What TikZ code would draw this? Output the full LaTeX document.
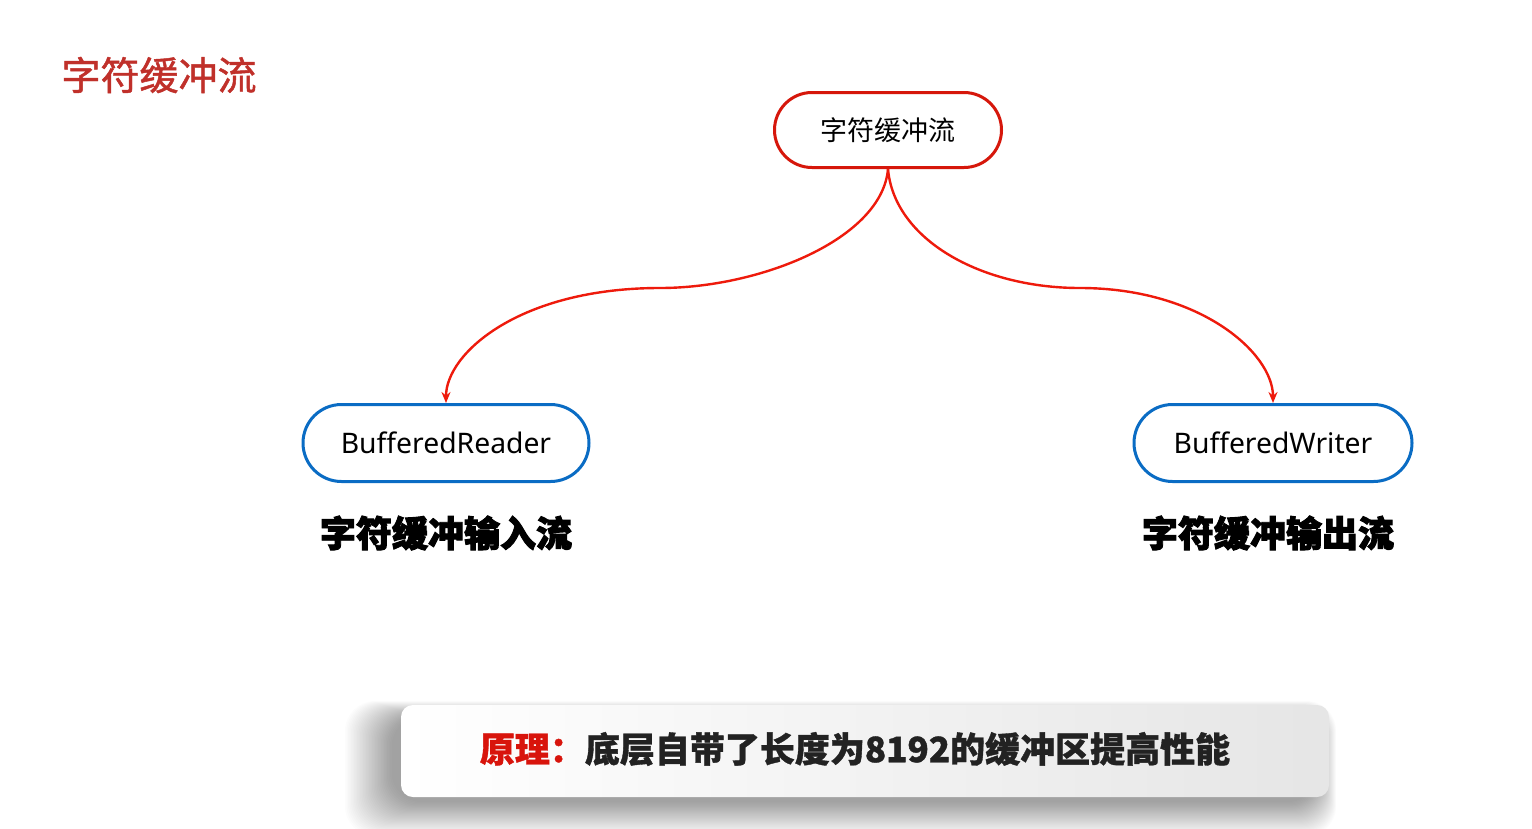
\documentclass[tikz,border=0pt]{standalone}
\usepackage{fontspec}
\newfontfamily\cjk{Noto Sans CJK SC}
\newfontfamily\cjkmid[UprightFeatures={FakeBold=1.2}]{Noto Sans CJK SC}
\newfontfamily\cjkblack[BoldFeatures={FakeBold=2.6}]{Noto Sans CJK SC}
\newfontfamily\cjkbold[BoldFeatures={FakeBold=1}]{Noto Sans CJK SC}
\newfontfamily\latin{Noto Sans}
\usetikzlibrary{arrows.meta,shapes.misc}
\definecolor{titlered}{HTML}{C0302A}
\definecolor{linered}{HTML}{EE1A0C}
\definecolor{boxblue}{HTML}{0A6CC4}
\definecolor{textred}{HTML}{D8140C}
\definecolor{darktext}{HTML}{222222}
\tikzset{
  pill/.style={rounded rectangle, line width=3pt, fill=white, inner sep=0pt},
  topbox/.style={pill, draw=linered!90!black, minimum width=227pt, minimum height=75pt},
  leafbox/.style={pill, draw=boxblue, minimum height=77pt},
  conn/.style={linered, line width=2.4pt, -{Stealth[length=11pt,width=9pt]}},
  sublabel/.style={font=\cjkblack\bfseries\fontsize{36}{36}\selectfont, text=black},
}
\begin{document}
\begin{tikzpicture}[x=1pt,y=-1pt]
\useasboundingbox[fill=white] (0,0) rectangle (1532,828);
\node[font=\cjkmid\fontsize{39}{39}\selectfont, text=titlered, anchor=west] (title) at (58,75) {字符缓冲流};
\node[topbox, font=\cjk\fontsize{27}{27}\selectfont] (root) at (888,130) {字符缓冲流};
\node[leafbox, minimum width=286pt, font=\latin\fontsize{28.3}{28}\selectfont] (reader) at (446,443) {BufferedReader};
\node[leafbox, minimum width=278pt, font=\latin\fontsize{28.3}{28}\selectfont] (writer) at (1273,443) {BufferedWriter};
\node[sublabel] (inlab) at (446,533) {字符缓冲输入流};
\node[sublabel] (outlab) at (1268,533) {字符缓冲输出流};
\coordinate (lmid) at (660,288);
\coordinate (rmid) at (1080,288);
\draw[conn] (root.south) .. controls ++(-6,70) and ++(100,0) .. (lmid) .. controls ++(-140,0) and ++(0,-50) .. (reader.north);
\draw[conn] (root.south) .. controls ++(6,70) and ++(-100,0) .. (rmid) .. controls ++(120,0) and ++(0,-50) .. (writer.north);
% soft shadow
\foreach \i in {1,...,32} {
  \fill[black, opacity=0.011, rounded corners=30pt]
    (401-8-\i*1.5, 705+12-\i*0.5) rectangle (1329-12+\i*0.6, 797+4+\i*1.1);
}
\path[rounded corners=12pt, left color=white, right color=black!10]
  (401,705) rectangle (1329,797);
\node[anchor=center, font=\cjkbold\bfseries\fontsize{35}{35}\selectfont] (principle) at (855,749) {\textcolor{textred}{原理：}\textcolor{darktext}{底层自带了长度为8192的缓冲区提高性能}};
\end{tikzpicture}
\end{document}
